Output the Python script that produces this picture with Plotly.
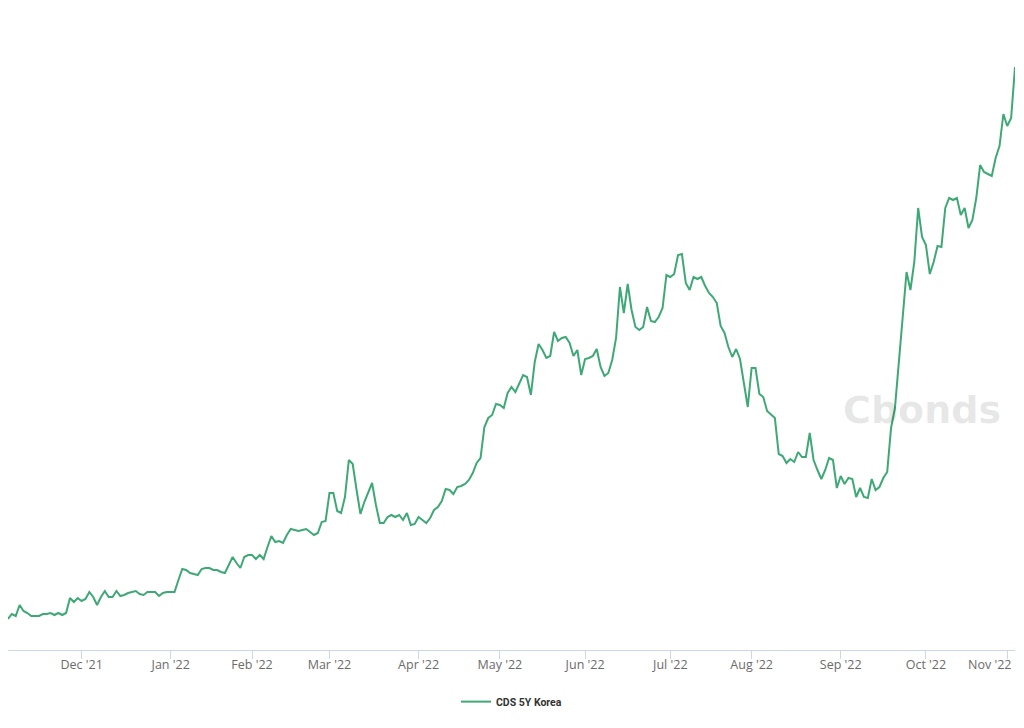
import pandas as pd
import plotly.graph_objects as go

# CDS 5Y Korea, daily (business days), bps
NOV_21 = [18.1, 18.6, 18.4, 19.5, 18.9, 18.7, 18.4, 18.4, 18.4, 18.6, 18.6, 18.7, 18.5, 18.7, 18.5, 18.7, 20.2, 19.8, 20.2]
DEC_21 = [19.9, 20.1, 20.8, 20.3, 19.5, 20.3, 20.9, 20.3, 20.3, 20.9, 20.4, 20.5, 20.7, 20.8, 20.9, 20.6, 20.5, 20.8, 20.8, 20.8, 20.4, 20.7, 20.8]
JAN_22 = [20.8, 20.8, 22.0, 23.1, 23.0, 22.7, 22.6, 22.5, 23.1, 23.2, 23.2, 23.0, 23.0, 22.8, 22.7, 23.5, 24.3, 23.7, 23.2, 24.3, 24.5]
FEB_22 = [24.5, 24.1, 24.5, 24.1, 25.3, 26.4, 25.8, 25.9, 25.7, 26.5, 27.1, 27.0, 26.9, 27.0, 27.1, 26.8, 26.5, 26.7, 27.8, 27.9]
MAR_22 = [30.7, 30.7, 28.9, 28.7, 30.3, 34.0, 33.6, 31.0, 28.6, 29.8, 30.8, 31.7, 29.5, 27.7, 27.7, 28.3, 28.5, 28.3, 28.5, 28.0, 28.7, 27.5, 27.6]
APR_22 = [28.3, 28.0, 27.7, 28.2, 29.0, 29.3, 29.9, 31.1, 31.0, 30.6, 31.3, 31.4, 31.6, 32.0, 32.7, 33.7, 34.2, 37.3, 38.2, 38.5, 39.6]
MAY_22 = [39.5, 39.2, 40.7, 41.3, 40.8, 41.7, 42.5, 42.3, 40.5, 43.8, 45.6, 45.0, 44.2, 44.4, 46.8, 45.9, 46.2, 46.3, 45.7, 44.4, 45.0, 42.5]
JUN_22 = [44.1, 44.2, 44.4, 45.1, 43.3, 42.4, 42.7, 44.0, 46.2, 51.3, 48.7, 51.6, 49.0, 47.3, 47.0, 47.3, 49.3, 47.9, 47.8, 48.3, 49.2, 52.5]
JUL_22 = [52.3, 52.6, 54.5, 54.6, 51.7, 51.0, 52.3, 52.1, 52.3, 51.4, 50.7, 50.3, 49.7, 47.4, 46.7, 45.3, 44.3, 45.1, 44.1, 41.7, 39.3]
AUG_22 = [43.2, 43.2, 40.6, 40.3, 38.9, 38.5, 38.2, 34.6, 34.4, 33.7, 34.1, 33.8, 34.8, 34.3, 34.3, 36.7, 34.0, 33.0, 32.1, 33.0, 34.2, 34.0, 31.2]
SEP_22 = [32.4, 31.6, 32.2, 32.1, 30.3, 31.2, 30.3, 30.2, 32.1, 31.0, 31.3, 32.2, 32.8, 37.2, 39.2, 43.8, 48.5, 52.8, 51.0, 53.8, 59.2, 56.3]
OCT_22 = [55.5, 52.6, 53.8, 55.4, 55.3, 59.2, 60.2, 60.0, 60.2, 58.5, 59.2, 57.2, 58.0, 60.2, 63.5, 62.8, 62.6, 62.4, 64.2, 65.4, 68.6]
NOV_22 = [67.4, 68.2, 73.3]

START_DATE = "2021-11-04"
END_DATE = "2022-11-03"

TICK_DATES = ["2021-12-01", "2022-01-03", "2022-02-01", "2022-03-01", "2022-04-01", "2022-05-02",
              "2022-06-01", "2022-07-01", "2022-08-01", "2022-09-01", "2022-10-03", "2022-11-01"]
TICK_LABELS = ["Dec '21", "Jan '22", "Feb '22", "Mar '22", "Apr '22", "May '22",
               "Jun '22", "Jul '22", "Aug '22", "Sep '22", "Oct '22", "Nov '22"]

values = (NOV_21 + DEC_21 + JAN_22 + FEB_22 + MAR_22 + APR_22 + MAY_22
          + JUN_22 + JUL_22 + AUG_22 + SEP_22 + OCT_22 + NOV_22)
dates = pd.bdate_range(START_DATE, END_DATE)
assert len(dates) == len(values)

tick_font = dict(family='Open Sans', size=12.5, color='#6b6b6b')

fig = go.Figure()

fig.add_trace(go.Scatter(
    x=dates,
    y=values,
    mode='lines',
    name='CDS 5Y Korea',
    line=dict(color='#3fa877', width=2)
))

# last month label is pulled left so it stays inside the chart, like the original
fig.add_annotation(
    text=TICK_LABELS[-1], xref='paper', yref='paper', x=1, y=-0.022,
    xanchor='right', yanchor='middle', xshift=-2,
    showarrow=False, font=tick_font
)

# watermark
fig.add_annotation(
    text='Cbonds', xref='paper', yref='paper', x=0.9077, y=0.375,
    xanchor='center', yanchor='middle',
    showarrow=False,
    font=dict(family='DejaVu Sans', size=38, weight=700, color='rgba(0,0,0,0.11)')
)

# page body has an 8px margin, so the figure is sized to fit the window
fig.update_layout(
    width=1016,
    height=720,
    margin=dict(l=0, r=9, t=2, b=78, autoexpand=False),
    paper_bgcolor='white',
    plot_bgcolor='white',
    showlegend=True,
    legend=dict(
        orientation='h', x=0.5, xanchor='center', y=-0.058, yanchor='top',
        font=dict(family='Roboto', size=10.5, weight=700, color='#333333')
    ),
    xaxis=dict(
        type='date',
        range=[dates[0], dates[-1]],
        rangebreaks=[dict(bounds=['sat', 'mon'])],
        tickvals=TICK_DATES,
        ticktext=TICK_LABELS[:-1] + [''],
        automargin=False,
        showgrid=False,
        zeroline=False,
        showline=True,
        linecolor='#ccd6eb',
        linewidth=1,
        ticks='outside',
        ticklen=8,
        tickcolor='#ccd6eb',
        ticklabelstandoff=-5,
        tickfont=tick_font
    ),
    yaxis=dict(range=[15, 79], visible=False, showgrid=False),
    hovermode='x unified'
)

fig.write_html("out.html")
